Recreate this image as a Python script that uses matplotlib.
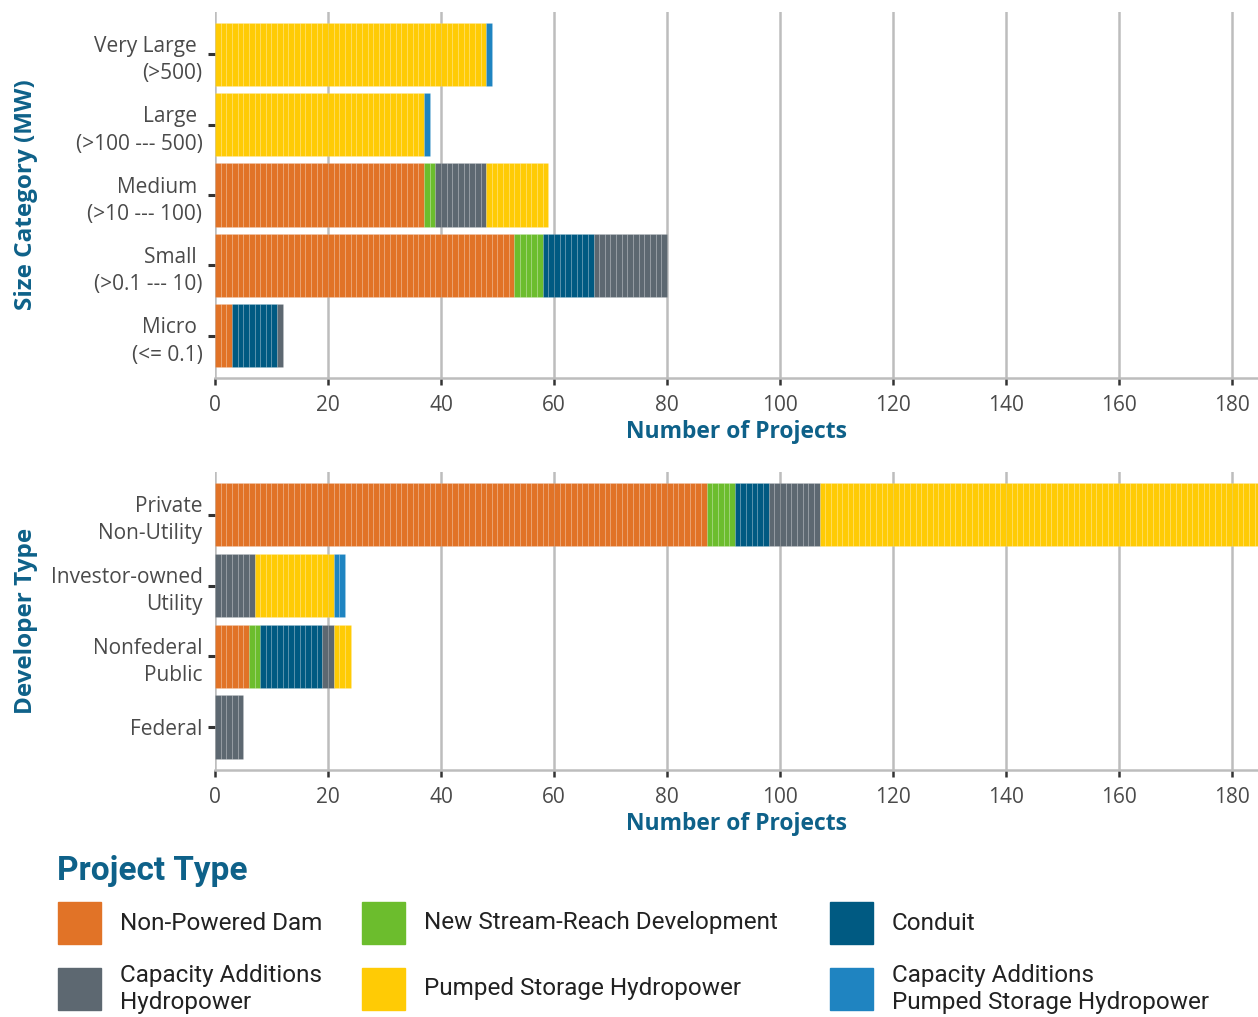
import matplotlib
matplotlib.use('Agg')
import matplotlib.pyplot as plt
from matplotlib.patches import Rectangle

# project types and their colours
types = ["Non-Powered Dam", "New Stream-Reach Development", "Conduit",
         "Capacity Additions\nHydropower", "Pumped Storage Hydropower",
         "Capacity Additions\nPumped Storage Hydropower"]
colors = ["#E17327", "#6CBD2D", "#005A82", "#5D6871", "#FFCB05", "#1F84C1"]
stack_order = [0, 1, 2, 3, 4, 5]

# size categories (top to bottom), counts per type in `types` order
size_labels = ["Very Large \n(>500)", "Large \n(>100 --- 500)", "Medium \n(>10 --- 100)",
               "Small \n(>0.1 --- 10)", "Micro \n(<= 0.1)"]
size_counts = [
    [0, 0, 0, 0, 48, 1],
    [0, 0, 0, 0, 37, 1],
    [37, 2, 0, 9, 11, 0],
    [53, 5, 9, 13, 0, 0],
    [3, 0, 8, 1, 0, 0],
]

# developer types (top to bottom)
dev_labels = ["Private\nNon-Utility", "Investor-owned\nUtility", "Nonfederal\nPublic", "Federal"]
dev_counts = [
    [87, 5, 6, 9, 79, 0],
    [0, 0, 0, 7, 14, 2],
    [6, 2, 11, 2, 3, 0],
    [0, 0, 0, 5, 0, 0],
]

x_ticks = [0, 20, 40, 60, 80, 100, 120, 140, 160, 180]
x_max = 184.6

blue = "#0E6189"
grey_txt = "#4A4A4A"
tick_font = ["Open Sans", "DejaVu Sans"]
narrow_font = ["Roboto", "DejaVu Sans"]

fig = plt.figure(figsize=(12.58, 10.17), dpi=100)


def draw_panel(ax, labels, counts, ylabel):
    n = len(labels)
    for i, row in enumerate(counts):
        y = n - 1 - i
        left = 0
        for t in stack_order:
            # one thin bar per project gives the striped look
            for k in range(row[t]):
                ax.barh(y, 1, left=left + k, height=0.9, color=colors[t],
                        edgecolor=(1, 1, 1, 0.1), linewidth=0.7, zorder=3)
            left += row[t]
    ax.set_yticks(range(n))
    ax.set_yticklabels(labels[::-1], fontsize=15, color=grey_txt,
                       family=tick_font, linespacing=1.4, ha="right")
    ax.set_ylim(-0.6, n - 0.4)
    ax.set_xlim(0, x_max)
    ax.set_xticks(x_ticks)
    ax.set_xticklabels([str(v) for v in x_ticks], fontsize=15, color=grey_txt, family=tick_font)
    ax.grid(axis="x", color="#BDBDBD", linewidth=1.8, zorder=0)
    ax.set_axisbelow(True)
    for s in ["top", "right", "left"]:
        ax.spines[s].set_visible(False)
    ax.spines["bottom"].set_color("#BDBDBD")
    ax.spines["bottom"].set_linewidth(1.8)
    ax.tick_params(axis="y", length=5, width=2.2, color="#333333", pad=4)
    ax.tick_params(axis="x", length=5, width=1.8, color="#333333", pad=7)
    ax.set_xlabel("Number of Projects", fontsize=16.5, fontweight="bold", color=blue,
                  family=tick_font, labelpad=3)
    ax.set_ylabel(ylabel, fontsize=17.5, fontweight="bold", color=blue, family=tick_font)


ax1 = fig.add_axes([0.1709, 0.6283, 0.8291, 0.3597])
draw_panel(ax1, size_labels, size_counts, "Size Category (MW)")
ax1.yaxis.set_label_coords(-0.17, 0.5)

ax2 = fig.add_axes([0.1709, 0.2429, 0.8291, 0.2930])
draw_panel(ax2, dev_labels, dev_counts, "Developer Type")
ax2.yaxis.set_label_coords(-0.17, 0.5)

# legend drawn by hand at the bottom
W, H = 1258, 1017
fig.text(57 / W, 1 - 871 / H, "Project Type", fontsize=24, fontweight="bold",
         color=blue, family=narrow_font, va="center", ha="left")
col_x = [58, 362, 830]
row_y = [923, 989]
legend_pos = [(0, 0), (0, 1), (0, 2), (1, 0), (1, 1), (1, 2)]
for t, (r, c) in enumerate(legend_pos):
    x0, yc = col_x[c], row_y[r]
    fig.patches.append(Rectangle((x0 / W, 1 - (yc + 21) / H), 43 / W, 42 / H,
                                 transform=fig.transFigure, color=colors[t]))
    fig.text((x0 + 62) / W, 1 - yc / H, types[t], fontsize=17.5, color="#222222",
             family=narrow_font, va="center", ha="left", linespacing=1.2)

fig.savefig("out.png", dpi=100)
